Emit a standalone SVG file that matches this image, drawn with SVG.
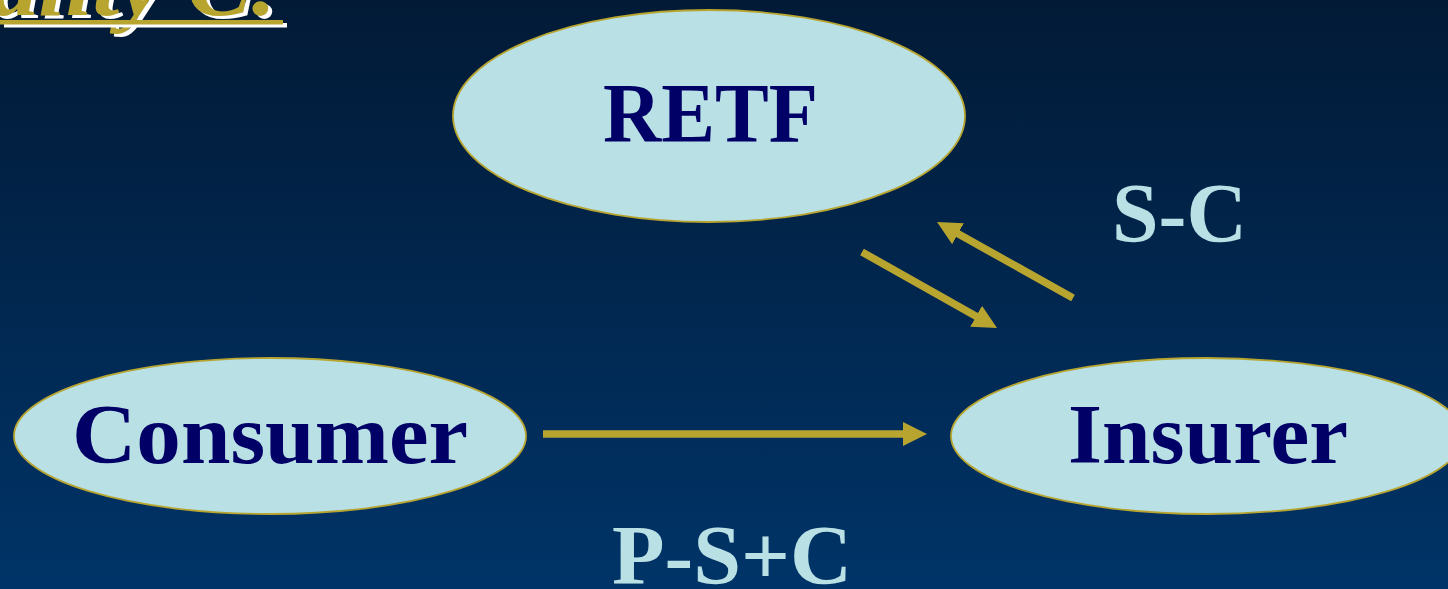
<svg xmlns="http://www.w3.org/2000/svg" width="1448" height="589" viewBox="0 0 1448 589">
  <defs>
    <linearGradient id="bg" x1="0" y1="0" x2="0" y2="1">
      <stop offset="0" stop-color="#021a36"/>
      <stop offset="1" stop-color="#003468"/>
    </linearGradient>
    <marker id="head" markerUnits="userSpaceOnUse" markerWidth="24" markerHeight="24" refX="4" refY="12" orient="auto">
      <path d="M0,0 L24,12 L0,24 Z" fill="#b8a530"/>
    </marker>
  </defs>
  <style>
    .node { fill: #b9e0e5; stroke: #b8a530; stroke-width: 1.8; }
    .lbl { font-family: "Liberation Serif", "Times New Roman", serif; font-weight: bold; font-size: 85px; fill: #000066; text-anchor: middle; }
    .edge { font-family: "Liberation Serif", "Times New Roman", serif; font-weight: bold; font-size: 85px; fill: #b9e0e5; }
    .conn { stroke: #b8a530; stroke-width: 7.5; fill: none; marker-end: url(#head); }
    .title { font-family: "Liberation Serif", "Times New Roman", serif; font-style: italic; font-weight: bold; font-size: 90px; }
  </style>
  <rect x="0" y="0" width="1448" height="589" fill="url(#bg)"/>

  <g id="title">
    <text class="title" x="-6" y="18" fill="#ffffff" textLength="286" lengthAdjust="spacingAndGlyphs">ality C.</text>
    <text class="title" x="-10" y="15" fill="#b8a530" textLength="286" lengthAdjust="spacingAndGlyphs">ality C.</text>
    <rect x="4" y="23" width="283" height="4.5" fill="#ffffff"/>
    <rect x="0" y="20" width="283" height="4.5" fill="#b8a530"/>
  </g>

  <g id="connectors">
    <line class="conn" x1="543" y1="434" x2="907" y2="434"/>
    <line class="conn" x1="862" y1="252" x2="979.6" y2="318.2"/>
    <line class="conn" x1="1073" y1="298" x2="954.5" y2="231.8"/>
    <text class="edge" x="1112" y="242" textLength="135" lengthAdjust="spacingAndGlyphs">S-C</text>
    <text class="edge" x="612" y="584" textLength="240" lengthAdjust="spacingAndGlyphs">P-S+C</text>
  </g>

  <g id="retf">
    <ellipse class="node" cx="709" cy="116" rx="256" ry="106"/>
    <text class="lbl" x="710.5" y="142" textLength="215" lengthAdjust="spacingAndGlyphs">RETF</text>
  </g>
  <g id="consumer">
    <ellipse class="node" cx="270" cy="436" rx="256" ry="78"/>
    <text class="lbl" x="270" y="463" textLength="396" lengthAdjust="spacingAndGlyphs">Consumer</text>
  </g>
  <g id="insurer">
    <ellipse class="node" cx="1207" cy="436" rx="256" ry="78"/>
    <text class="lbl" x="1208" y="463" textLength="280" lengthAdjust="spacingAndGlyphs">Insurer</text>
  </g>
</svg>
